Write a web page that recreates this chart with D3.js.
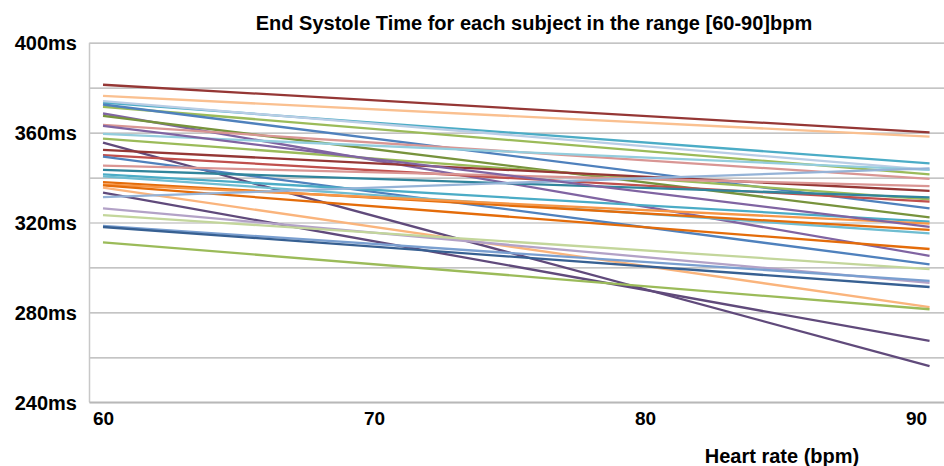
<!DOCTYPE html>
<html>
<head>
<meta charset="utf-8">
<script src="https://cdn.jsdelivr.net/npm/d3@7"></script>
<style>
  body { margin: 0; background: #fff; }
  svg { display: block; font-family: 'Liberation Sans', Arial, sans-serif; }
</style>
</head>
<body>
<svg id="chart"></svg>
<script>
// heart rate at the two ends of every subject line
const heartRates = [60, 90.5];

// end systole time (ms) per subject, at 60 bpm and at the right end
const subjectStart = [381.3, 376.3, 373.3, 374.0, 371.5, 372.5, 368.5, 367.4, 363.4, 359.4,
  357.3, 355.5, 352.3, 350.0, 349.3, 345.3, 343.4, 341.4, 340.5, 338.0,
  337.0, 336.5, 335.5, 333.3, 331.3, 326.3, 323.3, 318.5, 318.0, 311.2, 363.0];
const subjectEnd = [360.1, 358.2, 346.3, 343.4, 341.4, 326.3, 305.2, 322.3, 339.4, 343.4,
  330.3, 256.1, 334.1, 329.3, 301.4, 336.2, 331.2, 320.4, 315.2, 316.7,
  319.5, 308.2, 282.3, 267.3, 344.1, 293.2, 299.3, 294.0, 291.3, 281.4, 318.1];
const subjectColors = ['#953735', '#fac090', '#4bacc6', '#b9cde5', '#9bbb59', '#4f81bd', '#8064a2', '#77933c', '#d99694', '#93cddd',
  '#9bbb59', '#604a7b', '#953735', '#c0504d', '#4f81bd', '#da9694', '#31859c', '#4bacc6', '#6fbdd1', '#e46c0a',
  '#f79646', '#e46c0a', '#fab47c', '#604a7b', '#95b3d7', '#b3a2c7', '#c3d69b', '#7a9fd0', '#376092', '#9bbb59', '#8064a2'];

const xTicks = [60, 70, 80, 90];
const yLabelTicks = [240, 280, 320, 360, 400];
const yGridTicks = [240, 260, 280, 300, 320, 340, 360, 380, 400];

const W = 944, H = 466;
const svg = d3.select('#chart').attr('width', W).attr('height', H);

const x = d3.scaleLinear().domain([60, 90]).range([103, 916]);
const y = d3.scaleLinear().domain([240, 400]).range([402.3, 42.7]);
const plotLeft = 89.5, plotRight = 944;
const font = "'Liberation Sans', Arial, sans-serif";

// gridlines
svg.append('g')
  .attr('transform', 'translate(' + plotLeft + ',0)')
  .call(d3.axisLeft(y).tickValues(yGridTicks).tickSize(-(plotRight - plotLeft)).tickFormat(''))
  .call(g => g.select('.domain').remove())
  .call(g => g.selectAll('line').attr('stroke', '#b0b0b0').attr('stroke-width', 1.2));

// axis lines
svg.append('line')
  .attr('x1', plotLeft).attr('x2', plotLeft)
  .attr('y1', y(400)).attr('y2', y(240))
  .attr('stroke', '#c8c8c8').attr('stroke-width', 1.5);
svg.append('line')
  .attr('x1', plotLeft).attr('x2', plotRight)
  .attr('y1', y(240)).attr('y2', y(240))
  .attr('stroke', '#b8b8b8').attr('stroke-width', 1.5);

// y labels
svg.append('g')
  .attr('transform', 'translate(77,0)')
  .call(d3.axisLeft(y).tickValues(yLabelTicks).tickSize(0).tickPadding(0).tickFormat(d => d + 'ms'))
  .call(g => g.select('.domain').remove())
  .call(g => g.selectAll('text')
    .attr('fill', '#000').attr('font-size', 20).attr('font-weight', 'bold')
    .attr('font-family', font)
    .attr('dy', '0.35em'));

// x labels
svg.append('g')
  .attr('transform', 'translate(0,' + 407 + ')')
  .call(d3.axisBottom(x).tickValues(xTicks).tickSize(0).tickPadding(0))
  .call(g => g.select('.domain').remove())
  .call(g => g.selectAll('text')
    .attr('fill', '#000').attr('font-size', 19).attr('font-weight', 'bold')
    .attr('font-family', font)
    .attr('dy', '0.95em'));

// subject lines
const line = d3.line()
  .x(d => x(d[0]))
  .y(d => y(d[1]));

subjectStart.forEach((s, i) => {
  const pts = [[heartRates[0], s], [heartRates[1], subjectEnd[i]]];
  svg.append('path')
    .datum(pts)
    .attr('fill', 'none')
    .attr('stroke', subjectColors[i])
    .attr('stroke-width', 2.3)
    .attr('d', line);
});

// title
svg.append('text')
  .attr('x', 534).attr('y', 30)
  .attr('text-anchor', 'middle')
  .attr('font-size', 20).attr('font-weight', 'bold')
  .text('End Systole Time for each subject in the range [60-90]bpm');

// x axis title
svg.append('text')
  .attr('x', 782).attr('y', 463)
  .attr('text-anchor', 'middle')
  .attr('font-size', 20).attr('font-weight', 'bold')
  .text('Heart rate (bpm)');
</script>
</body>
</html>
